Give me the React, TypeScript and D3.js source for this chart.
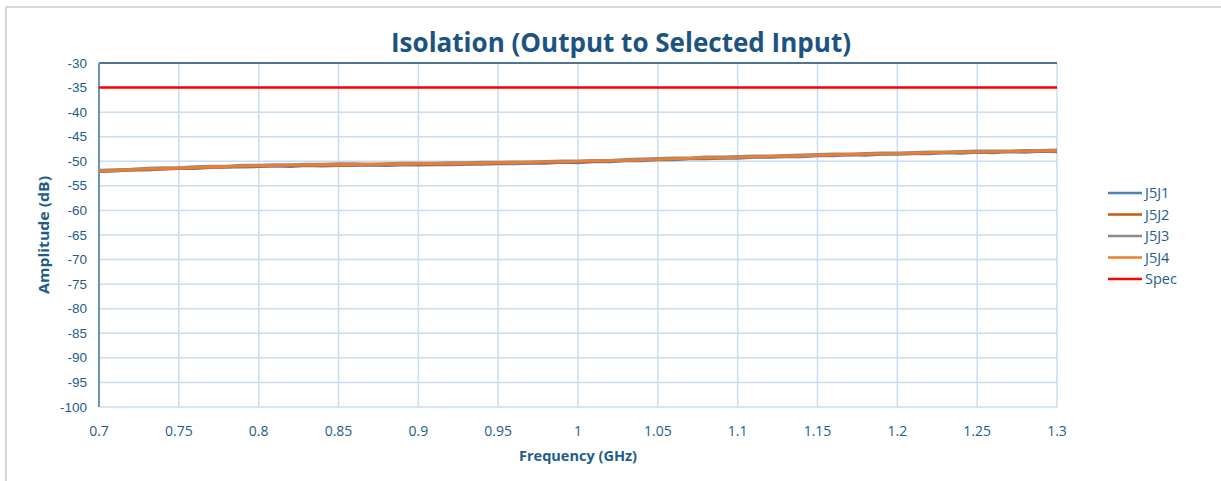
import React from "react";
import * as d3 from "d3";

const freqs = [
  0.7, 0.71, 0.72, 0.73, 0.74, 0.75, 0.76, 0.77, 0.78, 0.79,
  0.8, 0.81, 0.82, 0.83, 0.84, 0.85, 0.86, 0.87, 0.88, 0.89,
  0.9, 0.91, 0.92, 0.93, 0.94, 0.95, 0.96, 0.97, 0.98, 0.99,
  1.0, 1.01, 1.02, 1.03, 1.04, 1.05, 1.06, 1.07, 1.08, 1.09,
  1.1, 1.11, 1.12, 1.13, 1.14, 1.15, 1.16, 1.17, 1.18, 1.19,
  1.2, 1.21, 1.22, 1.23, 1.24, 1.25, 1.26, 1.27, 1.28, 1.29, 1.3,
];

const j5j1 = [
  -52.1, -52.0, -51.8, -51.8, -51.6, -51.5, -51.5, -51.3, -51.2, -51.2,
  -51.1, -51.0, -51.1, -50.9, -51.0, -50.9, -50.9, -50.8, -50.9, -50.8,
  -50.8, -50.7, -50.7, -50.6, -50.6, -50.5, -50.5, -50.4, -50.4, -50.2,
  -50.3, -50.1, -50.1, -49.9, -49.9, -49.7, -49.7, -49.5, -49.5, -49.4,
  -49.4, -49.2, -49.2, -49.1, -49.1, -48.9, -48.9, -48.7, -48.8, -48.6,
  -48.6, -48.5, -48.5, -48.3, -48.4, -48.2, -48.3, -48.1, -48.2, -48.0, -48.1,
];

const j5j2 = [
  -52.0, -51.9, -51.8, -51.6, -51.6, -51.4, -51.4, -51.2, -51.2, -51.0,
  -51.0, -50.9, -50.9, -50.8, -50.8, -50.8, -50.7, -50.7, -50.7, -50.6,
  -50.6, -50.6, -50.5, -50.5, -50.4, -50.4, -50.3, -50.3, -50.2, -50.1,
  -50.1, -50.0, -49.9, -49.8, -49.7, -49.6, -49.5, -49.4, -49.4, -49.3,
  -49.2, -49.1, -49.1, -49.0, -48.9, -48.8, -48.7, -48.7, -48.6, -48.5,
  -48.4, -48.4, -48.3, -48.2, -48.2, -48.1, -48.1, -48.0, -48.0, -47.9, -47.9,
];

const j5j3 = [
  -51.8, -51.7, -51.6, -51.4, -51.3, -51.3, -51.1, -51.0, -51.0, -50.8,
  -50.8, -50.7, -50.7, -50.6, -50.6, -50.5, -50.5, -50.6, -50.5, -50.4,
  -50.4, -50.4, -50.3, -50.3, -50.2, -50.2, -50.1, -50.1, -50.0, -49.9,
  -49.9, -49.8, -49.8, -49.6, -49.5, -49.4, -49.3, -49.3, -49.1, -49.1,
  -49.0, -48.9, -48.9, -48.8, -48.7, -48.6, -48.5, -48.5, -48.4, -48.3,
  -48.3, -48.2, -48.1, -48.1, -48.0, -47.9, -47.9, -47.9, -47.8, -47.8, -47.7,
];

const j5j4 = [
  -52.0, -51.9, -51.7, -51.6, -51.5, -51.4, -51.3, -51.2, -51.1, -51.0,
  -50.9, -50.9, -50.8, -50.8, -50.7, -50.7, -50.7, -50.6, -50.6, -50.6,
  -50.5, -50.5, -50.5, -50.4, -50.4, -50.3, -50.3, -50.2, -50.1, -50.1,
  -50.0, -49.9, -49.9, -49.8, -49.7, -49.6, -49.5, -49.4, -49.3, -49.3,
  -49.2, -49.1, -49.0, -49.0, -48.9, -48.8, -48.7, -48.6, -48.6, -48.5,
  -48.4, -48.4, -48.3, -48.2, -48.2, -48.1, -48.1, -48.0, -48.0, -47.9, -47.9,
];

const specLevel = -35;
const specFreqs = [0.7, 1.3];

const seriesNames = ["J5J1", "J5J2", "J5J3", "J5J4", "Spec"];
const seriesColors = ["#4f81bd", "#c55a11", "#8c8c8c", "#ed7d31", "#ff0000"];

const xTicks = [0.7, 0.75, 0.8, 0.85, 0.9, 0.95, 1, 1.05, 1.1, 1.15, 1.2, 1.25, 1.3];
const yTicks = [-30, -35, -40, -45, -50, -55, -60, -65, -70, -75, -80, -85, -90, -95, -100];

const W = 1221;
const H = 481;
const left = 99;
const right = 1057;
const top = 63;
const bottom = 407;

const textColor = "#1f5c8b";
const gridColor = "#c9dcf0";

export default function App() {
  const x = d3.scaleLinear().domain([0.7, 1.3]).range([left, right]);
  const y = d3.scaleLinear().domain([-100, -30]).range([bottom, top]);
  const line = d3
    .line<[number, number]>()
    .x((d) => x(d[0]))
    .y((d) => y(d[1]));

  const dataSeries = [j5j1, j5j2, j5j3, j5j4].map((vals) =>
    freqs.map((f, i) => [f, vals[i]] as [number, number])
  );
  const specData = specFreqs.map((f) => [f, specLevel] as [number, number]);

  return (
    <svg
      width={W}
      height={H}
      style={{ position: "absolute", left: 0, top: 0, background: "#fff" }}
    >
      <rect x={0} y={0} width={W} height={H} fill="#fff" />
      {/* outer frame */}
      <line x1={6} y1={7} x2={W} y2={7} stroke="#a3b4c6" strokeWidth={1} />
      <line x1={6} y1={7} x2={6} y2={H} stroke="#a3b4c6" strokeWidth={1} />

      {/* title */}
      <text
        x={621}
        y={52}
        textAnchor="middle"
        fontFamily="'Open Sans', 'Noto Sans', sans-serif"
        fontWeight="bold"
        fontSize={26}
        fill="#1b5381"
        textLength={460}
        lengthAdjust="spacingAndGlyphs"
      >
        Isolation (Output to Selected Input)
      </text>

      {/* horizontal gridlines */}
      {yTicks.map((t) => (
        <line
          key={"gy" + t}
          x1={left}
          x2={right}
          y1={y(t)}
          y2={y(t)}
          stroke={gridColor}
          strokeWidth={1.5}
        />
      ))}
      {/* vertical gridlines */}
      {xTicks.map((t) => (
        <line
          key={"gx" + t}
          x1={x(t)}
          x2={x(t)}
          y1={top}
          y2={bottom}
          stroke={gridColor}
          strokeWidth={1.5}
        />
      ))}
      {/* top border */}
      <line x1={left} x2={right} y1={top} y2={top} stroke="#1f4e79" strokeWidth={1.5} />
      {/* left axis */}
      <line x1={left} x2={left} y1={top} y2={bottom} stroke="#6b93bd" strokeWidth={2} />

      {/* y tick labels */}
      {yTicks.map((t) => (
        <text
          key={"ty" + t}
          x={87}
          y={y(t) + 4.5}
          textAnchor="end"
          fontFamily="'Liberation Sans', Arial, sans-serif"
          fontSize={13.5}
          fill={textColor}
        >
          {t}
        </text>
      ))}
      {/* x tick labels */}
      {xTicks.map((t) => (
        <text
          key={"tx" + t}
          x={x(t)}
          y={436}
          textAnchor="middle"
          fontFamily="'Open Sans', 'Noto Sans', sans-serif"
          fontSize={14}
          fill={textColor}
        >
          {String(t)}
        </text>
      ))}

      {/* axis titles */}
      <text
        x={578}
        y={461}
        textAnchor="middle"
        fontFamily="'Open Sans', 'Noto Sans', sans-serif"
        fontWeight="bold"
        fontSize={14}
        fill={textColor}
        textLength={118}
        lengthAdjust="spacingAndGlyphs"
      >
        Frequency (GHz)
      </text>
      <text
        transform={`translate(49, ${y(-65)}) rotate(-90)`}
        textAnchor="middle"
        fontFamily="'Open Sans', 'Noto Sans', sans-serif"
        fontWeight="bold"
        fontSize={14}
        fill={textColor}
        textLength={118}
        lengthAdjust="spacingAndGlyphs"
      >
        Amplitude (dB)
      </text>

      {/* series */}
      {dataSeries.map((d, i) => (
        <path
          key={"s" + i}
          d={line(d) || ""}
          fill="none"
          stroke={seriesColors[i]}
          strokeWidth={2.8}
          strokeLinejoin="round"
        />
      ))}
      <path d={line(specData) || ""} fill="none" stroke={seriesColors[4]} strokeWidth={2.6} />

      {/* legend */}
      {seriesNames.map((n, i) => {
        const ly = 193 + i * 21.5;
        return (
          <g key={"lg" + n}>
            <line x1={1108} x2={1142} y1={ly} y2={ly} stroke={seriesColors[i]} strokeWidth={2.6} />
            <text
              x={1145}
              y={ly + 5}
              fontFamily="'Open Sans', 'Noto Sans', sans-serif"
              fontSize={14.5}
              fill={textColor}
            >
              {n}
            </text>
          </g>
        );
      })}
    </svg>
  );
}
